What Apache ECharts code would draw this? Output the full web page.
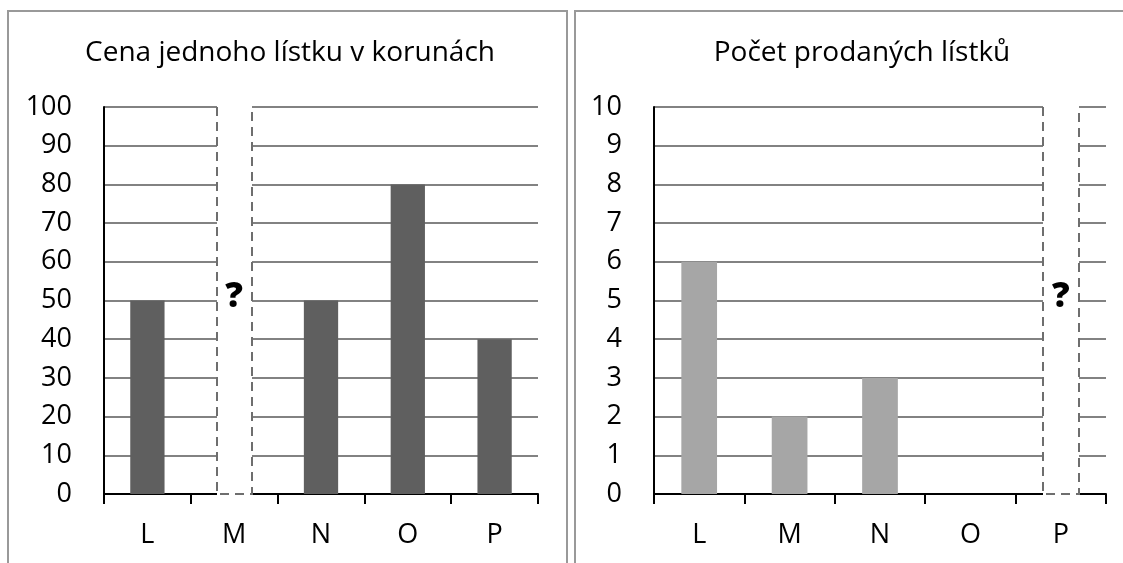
<!DOCTYPE html>
<html>
<head>
<meta charset="utf-8">
<script src="https://cdn.jsdelivr.net/npm/echarts@6/dist/echarts.min.js"></script>
<style>
  html, body { margin: 0; padding: 0; background: #fff; }
  #chart { width: 1123px; height: 563px; }
</style>
</head>
<body>
<div id="chart"></div>
<script>
var chart = echarts.init(document.getElementById('chart'));

var categories = ['L', 'M', 'N', 'O', 'P'];
// null = unknown value (drawn as dashed box with "?")
var priceValues = [50, null, 50, 80, 40];
var soldValues = [6, 2, 3, 0, null];
var priceTitle = 'Cena jednoho lístku v korunách';
var soldTitle = 'Počet prodaných lístků';
var priceMax = 100, priceStep = 10;
var soldMax = 10, soldStep = 1;

var FONT = '"Open Sans", sans-serif';
var GRID_COLOR = '#828282';

// [category index, box top value, value where "?" sits]
var missing = function (values, max) {
    var out = [];
    for (var i = 0; i < values.length; i++) {
        if (values[i] === null) out.push([i, max, max / 2]);
    }
    return out;
};

var renderMissing = function (params, api) {
    var top = api.coord([api.value(0), api.value(1)]);
    var bottom = api.coord([api.value(0), 0]);
    var mid = api.coord([api.value(0), api.value(2)]);
    var w = Math.round(api.size([1, 0])[0] * 0.4);
    var x0 = Math.round(top[0] - w / 2), x1 = x0 + w;
    return {
        type: 'group',
        children: [
            { type: 'rect', shape: { x: x0, y: top[1] - 1, width: w, height: bottom[1] - top[1] + 2 },
              style: { fill: '#fff' } },
            { type: 'polyline', shape: { points: [[x0, top[1]], [x0, bottom[1]], [x1, bottom[1]], [x1, top[1]]] },
              style: { stroke: '#6e6e6e', lineWidth: 2, lineDash: [9, 6], fill: null } },
            { type: 'text', x: top[0], y: mid[1] - 3,
              style: { text: '?', align: 'center', verticalAlign: 'middle', font: '800 35px ' + FONT, fill: '#000' } }
        ]
    };
};

var yAxisOf = function (gridIndex, max, step) {
    return {
        type: 'value', gridIndex: gridIndex, min: 0, max: max, interval: step,
        axisLine: { show: true, lineStyle: { color: '#000', width: 2 } },
        axisTick: { show: false },
        splitLine: { lineStyle: { color: GRID_COLOR, width: 2 } },
        axisLabel: { color: '#000', fontSize: 27, fontFamily: FONT, margin: 32 }
    };
};
var xAxisOf = function (gridIndex) {
    return {
        type: 'category', gridIndex: gridIndex, data: categories,
        axisLine: { lineStyle: { color: '#000', width: 2 } },
        axisTick: { show: true, length: 10, lineStyle: { color: '#000', width: 2 } },
        axisLabel: { color: '#000', fontSize: 27, fontFamily: FONT, margin: 28 }
    };
};

option = {
    animation: false,
    backgroundColor: '#fff',
    graphic: [
        { type: 'rect', shape: { x: 8, y: 11, width: 559, height: 600 },
          style: { fill: null, stroke: '#999', lineWidth: 2 } },
        { type: 'rect', shape: { x: 575, y: 11, width: 600, height: 600 },
          style: { fill: null, stroke: '#999', lineWidth: 2 } },
        { type: 'text', x: 290, y: 53,
          style: { text: priceTitle, align: 'center', verticalAlign: 'middle', font: '28px ' + FONT, fill: '#000' } },
        { type: 'text', x: 862, y: 53,
          style: { text: soldTitle, align: 'center', verticalAlign: 'middle', font: '28px ' + FONT, fill: '#000' } }
    ],
    grid: [
        { left: 104, right: 585, top: 107, bottom: 69 },
        { left: 654, right: 17, top: 107, bottom: 69 }
    ],
    xAxis: [xAxisOf(0), xAxisOf(1)],
    yAxis: [yAxisOf(0, priceMax, priceStep), yAxisOf(1, soldMax, soldStep)],
    series: [
        { type: 'bar', xAxisIndex: 0, yAxisIndex: 0, data: priceValues, barWidth: '39.5%',
          itemStyle: { color: '#5f5f5f' } },
        { type: 'bar', xAxisIndex: 1, yAxisIndex: 1, data: soldValues, barWidth: '39.5%',
          itemStyle: { color: '#a6a6a6' } },
        { type: 'custom', xAxisIndex: 0, yAxisIndex: 0, data: missing(priceValues, priceMax),
          renderItem: renderMissing, z: 5 },
        { type: 'custom', xAxisIndex: 1, yAxisIndex: 1, data: missing(soldValues, soldMax),
          renderItem: renderMissing, z: 5 }
    ]
};

chart.setOption(option);
</script>
</body>
</html>
